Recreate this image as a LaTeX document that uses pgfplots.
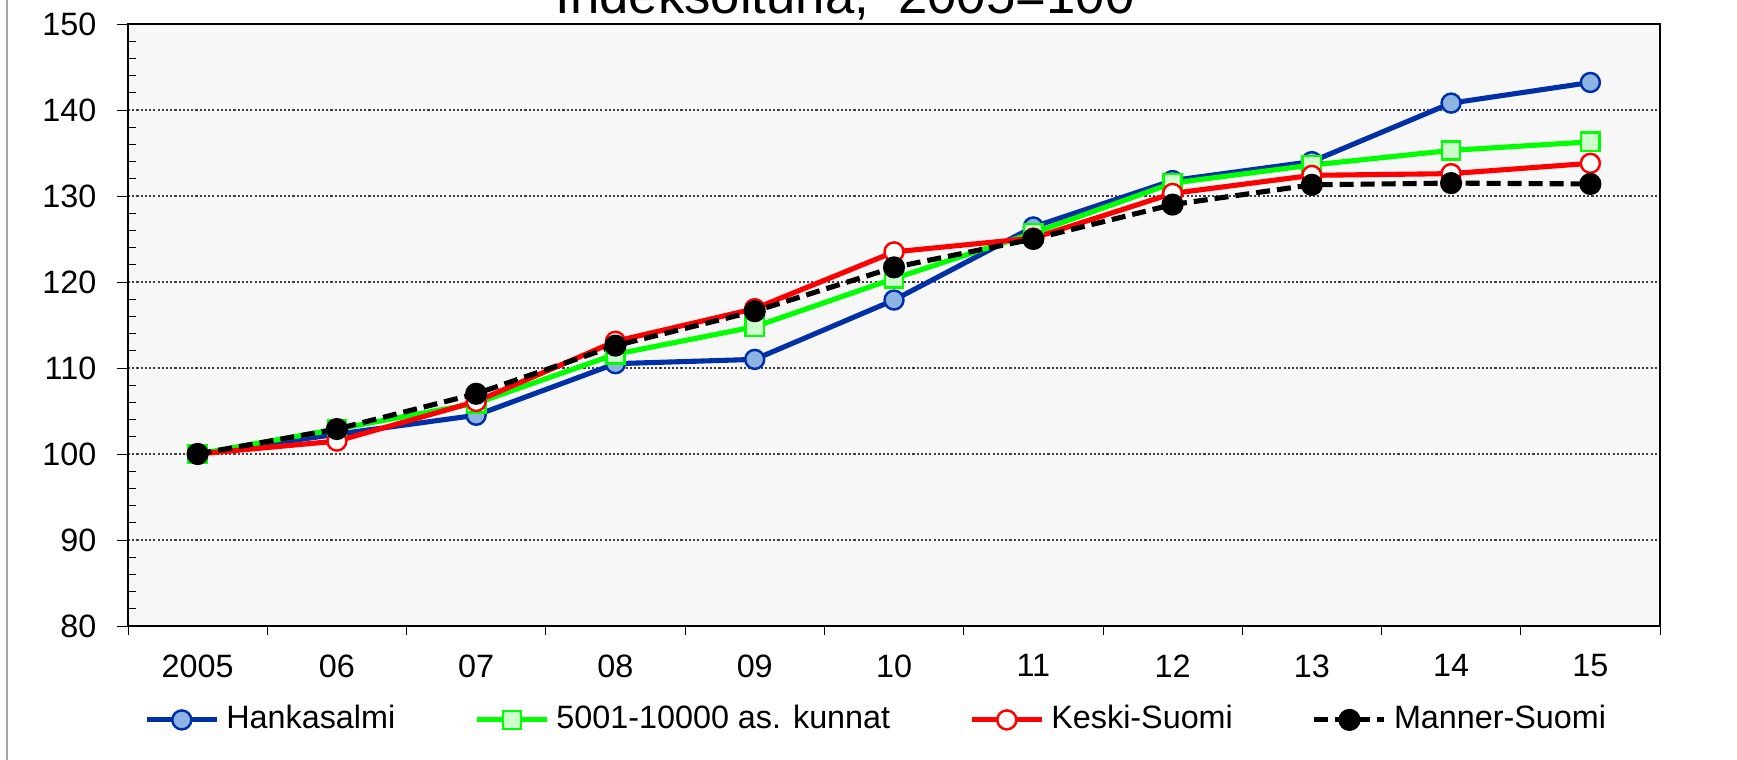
\documentclass[border=0pt]{standalone}
\usepackage{fontspec}
\setmainfont{Liberation Sans}
\usepackage{pgfplots}
\pgfplotsset{compat=1.18}

\definecolor{hkline}{HTML}{0030A8}
\definecolor{hkfill}{HTML}{8DB4E2}
\definecolor{kfill}{HTML}{CCFFCC}
\definecolor{plotbg}{HTML}{F7F7F7}

% index values, 2005=100
\pgfplotstableread{
x  hanka  kunnat  keski  manner
0  100.0  100.0   100.0  100.0
1  102.3  102.9   101.5  102.9
2  104.5  105.9   106.1  107.0
3  110.5  111.6   113.1  112.6
4  111.0  114.8   116.9  116.6
5  117.9  120.4   123.5  121.7
6  126.4  125.7   125.1  125.0
7  131.8  131.5   130.3  129.0
8  134.0  133.6   132.4  131.3
9  140.8  135.3   132.6  131.5
10 143.2  136.3   133.8  131.4
}\datatable

\begin{document}
\begin{tikzpicture}
\useasboundingbox (0,0) rectangle (17.37cm,7.6cm);
\draw[gray!70, line width=0.6pt] (0.07cm,0) -- (0.07cm,7.6cm);
\node[anchor=base, font=\fontsize{15}{18}\selectfont] at (8.45cm,7.46cm) {Indeksoituna,\ \ 2005=100};
\begin{axis}[
  at={(1.28cm,1.34cm)}, anchor=south west,
  scale only axis, width=15.32cm, height=6.02cm,
  xmin=-0.5, xmax=10.5, ymin=80, ymax=150,
  xtick={0,...,10},
  xticklabels={2005,06,07,08,09,10,11,12,13,14,15},
  minor xtick={-0.5,0.5,...,10.5},
  ytick={80,90,...,150},
  minor y tick num=4,
  tick align=inside,
  xtick pos=bottom, ytick pos=left,
  major tick length=0.11cm,
  minor tick length=0.08cm,
  major x tick style={draw=none},
  minor x tick style={black, yshift=-0.09cm},
  major y tick style={black, xshift=-0.11cm},
  minor y tick style={black},
  axis line style={black, line width=0.7pt},
  axis background/.style={fill=plotbg},
  ymajorgrids,
  major grid style={black!75, line width=0.4pt, dash pattern=on 0.6pt off 0.6pt},
  tick label style={font=\fontsize{9.2}{11}\selectfont},
  /pgf/number format/assume math mode=true,
  yticklabel style={anchor=east, inner sep=0pt, xshift=-0.31cm},
  xticklabel style={anchor=north, inner sep=0pt, yshift=-0.28cm},
  legend columns=4,
  legend style={draw=none, fill=none, at={(0.490,-0.156)}, anchor=center,
    font=\fontsize{9.2}{11}\selectfont,
    /tikz/every even column/.append style={column sep=0.72cm}},
  legend image code/.code={\draw[mark repeat=2, mark phase=2] plot coordinates {(0cm,0cm) (0.35cm,0cm) (0.7cm,0cm)};},
  every axis plot/.append style={line width=1.45pt},
]
\addplot[hkline, mark=*, mark size=2.7pt, mark options={solid, fill=hkfill, draw=hkline, line width=0.7pt}] table[x=x, y=hanka] {\datatable};
\addplot[green, mark=square*, mark size=2.6pt, mark options={solid, fill=kfill, draw=green, line width=0.7pt}] table[x=x, y=kunnat] {\datatable};
\addplot[red, mark=*, mark size=2.7pt, mark options={solid, fill=white, draw=red, line width=0.7pt}] table[x=x, y=keski] {\datatable};
\addplot[black, dash pattern=on 0.14cm off 0.07cm, mark=*, mark size=2.8pt, mark options={solid, fill=black, draw=black, line width=0.7pt}] table[x=x, y=manner] {\datatable};
\legend{Hankasalmi, 5001-10000 as. kunnat, Keski-Suomi, Manner-Suomi}
\end{axis}
\end{tikzpicture}
\end{document}
